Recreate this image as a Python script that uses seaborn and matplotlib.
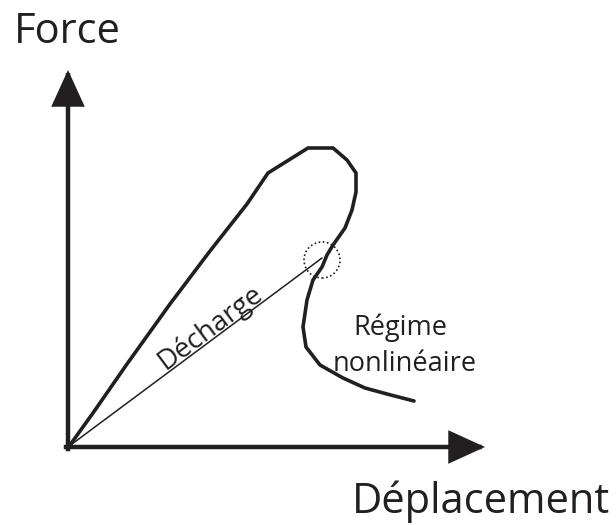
import matplotlib
matplotlib.use("Agg")
import matplotlib.pyplot as plt
import seaborn as sns
import pandas as pd
from matplotlib.patches import Circle

# --- data (arbitrary units, origin at axes corner) ---
curve_x = [2, 25, 59, 102, 142, 179, 200, 240, 265, 279, 288, 288, 284, 277,
           265, 259, 254, 245, 239, 235, 238, 252, 275, 297, 319, 346]
curve_y = [2, 34, 83, 143, 196, 243, 274, 299, 299, 287, 274, 255, 237, 219,
           202, 192, 180, 167, 147, 120, 100, 82, 69, 59, 53, 46]
unload_x = [0, 254]
unload_y = [0, 189]
circle_center = (254, 187)
circle_radius = 18

x_label = "Déplacement"
y_label = "Force"
unload_label = "Décharge"
regime_label = ["Régime", "nonlinéaire"]

INK = "#231f20"

sns.set_style("white")
plt.rcParams["font.family"] = ["Open Sans", "DejaVu Sans"]

fig = plt.figure(figsize=(6.16, 5.25), dpi=100)
ax = fig.add_axes([0, 0, 1, 1])
ax.set_xlim(-68, 548)
ax.set_ylim(-78, 447)

df = pd.DataFrame({"x": curve_x, "y": curve_y})
sns.lineplot(data=df, x="x", y="y", sort=False, estimator=None, ax=ax,
             color=INK, lw=2.6, solid_joinstyle="miter")
sns.lineplot(x=unload_x, y=unload_y, sort=False, estimator=None, ax=ax,
             color=INK, lw=1.1)

ax.add_patch(Circle(circle_center, circle_radius, fill=False, ls=(0, (1, 1.5)),
                    lw=1.2, ec=INK))

arrow_kw = dict(arrowstyle="-|>,head_length=1.05,head_width=0.48", lw=3.2,
                color=INK, mutation_scale=20, shrinkA=0, shrinkB=0,
                joinstyle="miter", capstyle="projecting")
ax.annotate("", xy=(0, 377), xytext=(0, -2), arrowprops=arrow_kw)
ax.annotate("", xy=(417, 0), xytext=(-2, 0), arrowprops=arrow_kw)

ax.text(-54, 404, y_label, fontsize=30, color=INK, ha="left", va="baseline")
ax.text(542, -66, x_label, fontsize=30, color=INK, ha="right", va="baseline")
ax.text(332, 112, regime_label[0], fontsize=19.5, color=INK, ha="center", va="baseline")
ax.text(337, 76, regime_label[1], fontsize=19.5, color=INK, ha="center", va="baseline")
ax.text(142, 119, unload_label, fontsize=20, color=INK, ha="center", va="center",
        rotation=36.6, rotation_mode="anchor")

ax.set_axis_off()
fig.savefig("out.png", dpi=100)
